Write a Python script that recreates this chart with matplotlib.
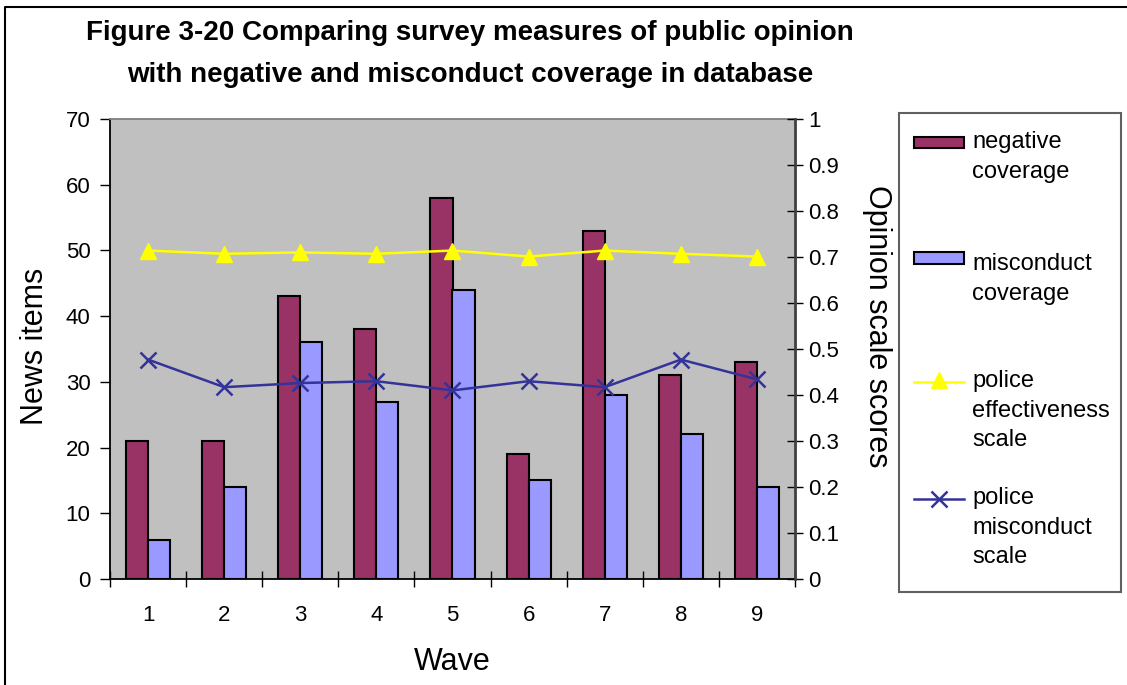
import matplotlib.pyplot as plt
import matplotlib as mpl
import numpy as np
from matplotlib.patches import Rectangle
from matplotlib.lines import Line2D

mpl.rc('font', family='Liberation Sans')

# wave numbers and the four series
waves = [1, 2, 3, 4, 5, 6, 7, 8, 9]
negative = [21, 21, 43, 38, 58, 19, 53, 31, 33]
misconduct = [6, 14, 36, 27, 44, 15, 28, 22, 14]
effectiveness_scale = [0.714, 0.707, 0.710, 0.707, 0.714, 0.701, 0.714, 0.707, 0.701]
misconduct_scale = [0.477, 0.417, 0.426, 0.430, 0.410, 0.430, 0.417, 0.477, 0.434]

left_ticks = [0, 10, 20, 30, 40, 50, 60, 70]
right_ticks = [0, 0.1, 0.2, 0.3, 0.4, 0.5, 0.6, 0.7, 0.8, 0.9, 1]
right_labels = ['0', '0.1', '0.2', '0.3', '0.4', '0.5', '0.6', '0.7', '0.8', '0.9', '1']

c_neg = '#993366'
c_mis = '#9999FF'
c_eff = '#FFFF00'
c_scl = '#333399'

W, H = 1127, 685
fig = plt.figure(figsize=(W / 100, H / 100), dpi=100)

def fx(px):
    return px / W
def fy(py):
    return 1 - py / H

ax = fig.add_axes([fx(110), fy(579), fx(795) - fx(110), fy(119) - fy(579)])
ax.set_facecolor('#C0C0C0')

x = np.array(waves)
bw = 0.29
ax.bar(x - bw / 2, negative, bw, color=c_neg, edgecolor='black', linewidth=1.5, zorder=2)
ax.bar(x + bw / 2, misconduct, bw, color=c_mis, edgecolor='black', linewidth=1.5, zorder=2)

ax.set_xlim(0.5, 9.5)
ax.set_ylim(0, 70)
ax.set_yticks(left_ticks)
ax.set_xticks(x)
ax.set_xticks(np.arange(0.5, 10, 1), minor=True)
ax.tick_params(axis='x', which='major', length=0, pad=19, labelsize=16)
ax.tick_params(axis='x', which='minor', direction='inout', length=11, width=1)
ax.tick_params(axis='y', direction='out', length=7, width=1, pad=7, labelsize=16)
ax.spines['left'].set_color('black')
ax.spines['bottom'].set_color('black')
ax.spines['top'].set_color('#808080')
ax.spines['right'].set_visible(False)
for s in ['left', 'bottom', 'top']:
    ax.spines[s].set_linewidth(1.3)

ax2 = ax.twinx()
ax2.plot(x, effectiveness_scale, color=c_eff, lw=1.8, marker='^', ms=11, mec=c_eff, mfc=c_eff, zorder=3)
ax2.plot(x, misconduct_scale, color=c_scl, lw=1.8, marker='x', ms=11, mew=1.8, zorder=3)
ax2.set_ylim(0, 1)
ax2.set_yticks(right_ticks)
ax2.set_yticklabels(right_labels)
ax2.tick_params(axis='y', direction='inout', length=11, width=1, pad=4, labelsize=16)
ax2.spines['right'].set_color('#404040')
ax2.spines['right'].set_linewidth(2)
for s in ['left', 'top', 'bottom']:
    ax2.spines[s].set_visible(False)
ax.set_zorder(1)
ax2.set_zorder(2)
ax2.patch.set_visible(False)

# titles and axis labels
fig.text(fx(470), fy(54), 'Figure 3-20 Comparing survey measures of public opinion\nwith negative and misconduct coverage in database',
         ha='center', va='center', fontsize=20, fontweight='bold', linespacing=1.75)
fig.text(fx(35), fy(346), 'News items', rotation=90, ha='center', va='center', fontsize=22)
fig.text(fx(877), fy(326), 'Opinion scale scores', rotation=-90, ha='center', va='center', fontsize=22)
fig.text(fx(452), fy(662), 'Wave', ha='center', va='center', fontsize=22)

# legend box drawn by hand
fig.add_artist(Rectangle((fx(899), fy(592)), fx(1121) - fx(899), fy(113) - fy(592),
                         transform=fig.transFigure, facecolor='white', edgecolor='#606060', lw=1.5))
tx = fx(972)
ls = 1.45
fig.add_artist(Rectangle((fx(914), fy(148)), fx(964) - fx(914), fy(137) - fy(148),
                         transform=fig.transFigure, facecolor=c_neg, edgecolor='black', lw=1.5))
fig.text(tx, fy(131), 'negative\ncoverage', ha='left', va='top', fontsize=17, linespacing=ls)
fig.add_artist(Rectangle((fx(914), fy(264)), fx(964) - fx(914), fy(252) - fy(264),
                         transform=fig.transFigure, facecolor=c_mis, edgecolor='black', lw=1.5))
fig.text(tx, fy(253), 'misconduct\ncoverage', ha='left', va='top', fontsize=17, linespacing=ls)
fig.add_artist(Line2D([fx(914), fx(964)], [fy(382), fy(382)], transform=fig.transFigure,
                      color=c_eff, lw=1.8, marker=None))
fig.add_artist(Line2D([fx(939)], [fy(380)], transform=fig.transFigure, color=c_eff,
                      marker='^', ms=11, mfc=c_eff, mec=c_eff))
fig.text(tx, fy(370), 'police\neffectiveness\nscale', ha='left', va='top', fontsize=17, linespacing=ls)
fig.add_artist(Line2D([fx(914), fx(964)], [fy(499), fy(499)], transform=fig.transFigure,
                      color=c_scl, lw=1.8))
fig.add_artist(Line2D([fx(939)], [fy(499)], transform=fig.transFigure, color=c_scl,
                      marker='x', ms=11, mew=1.8))
fig.text(tx, fy(487), 'police\nmisconduct\nscale', ha='left', va='top', fontsize=17, linespacing=ls)

# outer frame on the left and top edges
fig.add_artist(Line2D([fx(5), fx(5), fx(1127)], [0, fy(7), fy(7)], transform=fig.transFigure,
                      color='black', lw=1.5))

fig.savefig('out.png', dpi=100)
